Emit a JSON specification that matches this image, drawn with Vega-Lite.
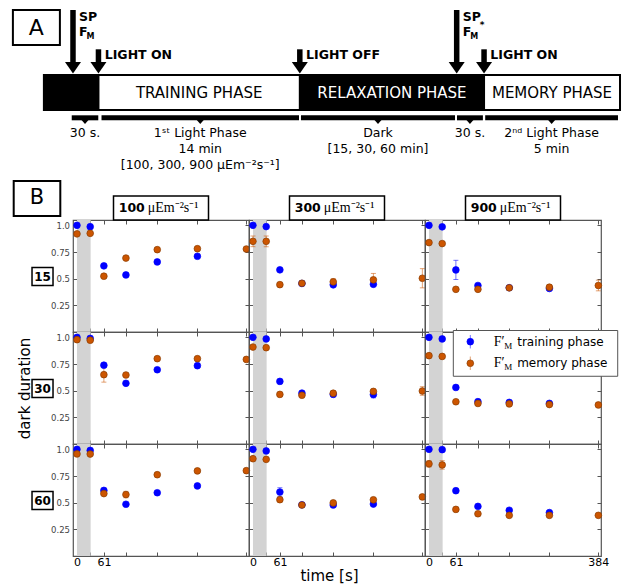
{
"$schema": "https://vega.github.io/schema/vega-lite/v6.json",
"padding": {"left": 8, "top": 0, "right": 0, "bottom": 0},
"spacing": 0,
"bounds": "flush",
"config": {
 "font": "DejaVu Sans",
 "view": {"stroke": "#555", "strokeWidth": 1.2},
 "axis": {"grid": false, "domain": false, "tickSize": -4, "tickColor": "#555", "tickWidth": 1, "labelFlush": false, "labelOverlap": false, "labelFont": "DejaVu Sans", "titleFont": "DejaVu Sans", "titleFontWeight": "normal", "titleColor": "#000"},
 "axisBottom": {"labelPadding": 4, "labelFontSize": 11, "labelColor": "#000"},
 "axisLeft": {"labelPadding": 7.5, "labelFontSize": 8.5, "labelColor": "#444"}
},
"datasets": {
 "band": [{"from": 0, "to": 31}],
 "heads": [{"intensity": 100, "label": "100", "unit": "μEm⁻²s⁻¹"}, {"intensity": 300, "label": "300", "unit": "μEm⁻²s⁻¹"}, {"intensity": 900, "label": "900", "unit": "μEm⁻²s⁻¹"}],
 "rowlab": [{"dark": "15"}, {"dark": "30"}, {"dark": "60"}],
 "legend": [{"series": "training", "label": "training phase"}, {"series": "memory", "label": "memory phase"}],
 "events": [
  {"event": "SP1", "pos": 5.05, "kind": "SP", "label": "SP", "star": false},
  {"event": "on1", "pos": 9.47, "kind": "light", "label": "LIGHT ON", "star": false},
  {"event": "off", "pos": 44.42, "kind": "light", "label": "LIGHT OFF", "star": false},
  {"event": "SP2", "pos": 71.65, "kind": "SP", "label": "SP", "star": true},
  {"event": "on2", "pos": 76.4, "kind": "light", "label": "LIGHT ON", "star": false}
 ],
 "phases": [
  {"phase": "pre", "start": 0, "end": 9.47, "light": "off", "label": ""},
  {"phase": "training", "start": 9.47, "end": 44.42, "light": "on", "label": "TRAINING PHASE"},
  {"phase": "relaxation", "start": 44.42, "end": 76.4, "light": "off", "label": "RELAXATION PHASE"},
  {"phase": "memory", "start": 76.4, "end": 100, "light": "on", "label": "MEMORY PHASE"}
 ],
 "brackets": [
  {"seg": "b1", "start": 4.83, "end": 9.44, "l1": "30 s.", "l2": "", "l3": ""},
  {"seg": "b2", "start": 10.0, "end": 44.28, "l1": "1ˢᵗ Light Phase", "l2": "14 min", "l3": "[100, 300, 900 μEm⁻²s⁻¹]"},
  {"seg": "b3", "start": 44.62, "end": 71.36, "l1": "Dark", "l2": "[15, 30, 60 min]", "l3": ""},
  {"seg": "b4", "start": 71.7, "end": 76.2, "l1": "30 s.", "l2": "", "l3": ""},
  {"seg": "b5", "start": 76.6, "end": 99.65, "l1": "2ⁿᵈ Light Phase", "l2": "5 min", "l3": ""}
 ],
 "pts": [
  {"dark":15,"intensity":100,"series":"training","t":0,"value":1.0,"err":0.01},
  {"dark":15,"intensity":100,"series":"training","t":30,"value":0.987,"err":0.01},
  {"dark":15,"intensity":100,"series":"training","t":61,"value":0.62,"err":0.01},
  {"dark":15,"intensity":100,"series":"training","t":111,"value":0.535,"err":0.01},
  {"dark":15,"intensity":100,"series":"training","t":182,"value":0.657,"err":0.01},
  {"dark":15,"intensity":100,"series":"training","t":273,"value":0.71,"err":0.01},
  {"dark":15,"intensity":300,"series":"training","t":0,"value":1.0,"err":0.01},
  {"dark":15,"intensity":300,"series":"training","t":30,"value":0.988,"err":0.01},
  {"dark":15,"intensity":300,"series":"training","t":61,"value":0.583,"err":0.01},
  {"dark":15,"intensity":300,"series":"training","t":111,"value":0.455,"err":0.01},
  {"dark":15,"intensity":300,"series":"training","t":182,"value":0.442,"err":0.01},
  {"dark":15,"intensity":300,"series":"training","t":273,"value":0.447,"err":0.01},
  {"dark":15,"intensity":900,"series":"training","t":0,"value":1.0,"err":0.01},
  {"dark":15,"intensity":900,"series":"training","t":30,"value":0.986,"err":0.01},
  {"dark":15,"intensity":900,"series":"training","t":61,"value":0.582,"err":0.09},
  {"dark":15,"intensity":900,"series":"training","t":111,"value":0.436,"err":0.01},
  {"dark":15,"intensity":900,"series":"training","t":182,"value":0.415,"err":0.01},
  {"dark":15,"intensity":900,"series":"training","t":273,"value":0.408,"err":0.01},
  {"dark":30,"intensity":100,"series":"training","t":0,"value":1.0,"err":0.01},
  {"dark":30,"intensity":100,"series":"training","t":30,"value":0.99,"err":0.01},
  {"dark":30,"intensity":100,"series":"training","t":61,"value":0.739,"err":0.01},
  {"dark":30,"intensity":100,"series":"training","t":111,"value":0.569,"err":0.01},
  {"dark":30,"intensity":100,"series":"training","t":182,"value":0.696,"err":0.01},
  {"dark":30,"intensity":100,"series":"training","t":273,"value":0.734,"err":0.01},
  {"dark":30,"intensity":300,"series":"training","t":0,"value":1.0,"err":0.01},
  {"dark":30,"intensity":300,"series":"training","t":30,"value":0.985,"err":0.01},
  {"dark":30,"intensity":300,"series":"training","t":61,"value":0.587,"err":0.01},
  {"dark":30,"intensity":300,"series":"training","t":111,"value":0.477,"err":0.01},
  {"dark":30,"intensity":300,"series":"training","t":182,"value":0.465,"err":0.02},
  {"dark":30,"intensity":300,"series":"training","t":273,"value":0.463,"err":0.03},
  {"dark":30,"intensity":900,"series":"training","t":0,"value":1.0,"err":0.01},
  {"dark":30,"intensity":900,"series":"training","t":30,"value":0.985,"err":0.01},
  {"dark":30,"intensity":900,"series":"training","t":61,"value":0.53,"err":0.01},
  {"dark":30,"intensity":900,"series":"training","t":111,"value":0.397,"err":0.01},
  {"dark":30,"intensity":900,"series":"training","t":182,"value":0.39,"err":0.01},
  {"dark":30,"intensity":900,"series":"training","t":273,"value":0.381,"err":0.01},
  {"dark":60,"intensity":100,"series":"training","t":0,"value":1.0,"err":0.01},
  {"dark":60,"intensity":100,"series":"training","t":30,"value":0.99,"err":0.01},
  {"dark":60,"intensity":100,"series":"training","t":61,"value":0.615,"err":0.01},
  {"dark":60,"intensity":100,"series":"training","t":111,"value":0.485,"err":0.01},
  {"dark":60,"intensity":100,"series":"training","t":182,"value":0.593,"err":0.01},
  {"dark":60,"intensity":100,"series":"training","t":273,"value":0.657,"err":0.01},
  {"dark":60,"intensity":300,"series":"training","t":0,"value":1.0,"err":0.01},
  {"dark":60,"intensity":300,"series":"training","t":30,"value":0.985,"err":0.01},
  {"dark":60,"intensity":300,"series":"training","t":61,"value":0.6,"err":0.04},
  {"dark":60,"intensity":300,"series":"training","t":111,"value":0.48,"err":0.01},
  {"dark":60,"intensity":300,"series":"training","t":182,"value":0.478,"err":0.01},
  {"dark":60,"intensity":300,"series":"training","t":273,"value":0.487,"err":0.01},
  {"dark":60,"intensity":900,"series":"training","t":0,"value":1.0,"err":0.01},
  {"dark":60,"intensity":900,"series":"training","t":30,"value":0.997,"err":0.01},
  {"dark":60,"intensity":900,"series":"training","t":61,"value":0.612,"err":0.01},
  {"dark":60,"intensity":900,"series":"training","t":111,"value":0.465,"err":0.01},
  {"dark":60,"intensity":900,"series":"training","t":182,"value":0.429,"err":0.01},
  {"dark":60,"intensity":900,"series":"training","t":273,"value":0.407,"err":0.01},
  {"dark":15,"intensity":100,"series":"memory","t":0,"value":0.92,"err":0.01},
  {"dark":15,"intensity":100,"series":"memory","t":30,"value":0.925,"err":0.01},
  {"dark":15,"intensity":100,"series":"memory","t":61,"value":0.523,"err":0.01},
  {"dark":15,"intensity":100,"series":"memory","t":111,"value":0.693,"err":0.01},
  {"dark":15,"intensity":100,"series":"memory","t":182,"value":0.772,"err":0.01},
  {"dark":15,"intensity":100,"series":"memory","t":273,"value":0.781,"err":0.01},
  {"dark":15,"intensity":100,"series":"memory","t":384,"value":0.778,"err":0.01},
  {"dark":15,"intensity":300,"series":"memory","t":0,"value":0.85,"err":0.05},
  {"dark":15,"intensity":300,"series":"memory","t":30,"value":0.85,"err":0.05},
  {"dark":15,"intensity":300,"series":"memory","t":61,"value":0.444,"err":0.01},
  {"dark":15,"intensity":300,"series":"memory","t":111,"value":0.457,"err":0.02},
  {"dark":15,"intensity":300,"series":"memory","t":182,"value":0.47,"err":0.03},
  {"dark":15,"intensity":300,"series":"memory","t":273,"value":0.489,"err":0.06},
  {"dark":15,"intensity":300,"series":"memory","t":384,"value":0.504,"err":0.09},
  {"dark":15,"intensity":900,"series":"memory","t":0,"value":0.838,"err":0.01},
  {"dark":15,"intensity":900,"series":"memory","t":30,"value":0.829,"err":0.01},
  {"dark":15,"intensity":900,"series":"memory","t":61,"value":0.4,"err":0.01},
  {"dark":15,"intensity":900,"series":"memory","t":111,"value":0.4,"err":0.01},
  {"dark":15,"intensity":900,"series":"memory","t":182,"value":0.414,"err":0.01},
  {"dark":15,"intensity":900,"series":"memory","t":273,"value":0.42,"err":0.02},
  {"dark":15,"intensity":900,"series":"memory","t":384,"value":0.436,"err":0.05},
  {"dark":30,"intensity":100,"series":"memory","t":0,"value":0.978,"err":0.01},
  {"dark":30,"intensity":100,"series":"memory","t":30,"value":0.973,"err":0.01},
  {"dark":30,"intensity":100,"series":"memory","t":61,"value":0.65,"err":0.07},
  {"dark":30,"intensity":100,"series":"memory","t":111,"value":0.647,"err":0.01},
  {"dark":30,"intensity":100,"series":"memory","t":182,"value":0.8,"err":0.01},
  {"dark":30,"intensity":100,"series":"memory","t":273,"value":0.8,"err":0.01},
  {"dark":30,"intensity":100,"series":"memory","t":384,"value":0.793,"err":0.01},
  {"dark":30,"intensity":300,"series":"memory","t":0,"value":0.909,"err":0.01},
  {"dark":30,"intensity":300,"series":"memory","t":30,"value":0.903,"err":0.01},
  {"dark":30,"intensity":300,"series":"memory","t":61,"value":0.465,"err":0.01},
  {"dark":30,"intensity":300,"series":"memory","t":111,"value":0.457,"err":0.01},
  {"dark":30,"intensity":300,"series":"memory","t":182,"value":0.476,"err":0.02},
  {"dark":30,"intensity":300,"series":"memory","t":273,"value":0.493,"err":0.02},
  {"dark":30,"intensity":300,"series":"memory","t":384,"value":0.497,"err":0.04},
  {"dark":30,"intensity":900,"series":"memory","t":0,"value":0.828,"err":0.01},
  {"dark":30,"intensity":900,"series":"memory","t":30,"value":0.821,"err":0.01},
  {"dark":30,"intensity":900,"series":"memory","t":61,"value":0.396,"err":0.01},
  {"dark":30,"intensity":900,"series":"memory","t":111,"value":0.38,"err":0.01},
  {"dark":30,"intensity":900,"series":"memory","t":182,"value":0.376,"err":0.01},
  {"dark":30,"intensity":900,"series":"memory","t":273,"value":0.37,"err":0.01},
  {"dark":30,"intensity":900,"series":"memory","t":384,"value":0.366,"err":0.01},
  {"dark":60,"intensity":100,"series":"memory","t":0,"value":0.957,"err":0.01},
  {"dark":60,"intensity":100,"series":"memory","t":30,"value":0.956,"err":0.01},
  {"dark":60,"intensity":100,"series":"memory","t":61,"value":0.585,"err":0.01},
  {"dark":60,"intensity":100,"series":"memory","t":111,"value":0.576,"err":0.03},
  {"dark":60,"intensity":100,"series":"memory","t":182,"value":0.762,"err":0.01},
  {"dark":60,"intensity":100,"series":"memory","t":273,"value":0.798,"err":0.01},
  {"dark":60,"intensity":100,"series":"memory","t":384,"value":0.8,"err":0.01},
  {"dark":60,"intensity":300,"series":"memory","t":0,"value":0.912,"err":0.01},
  {"dark":60,"intensity":300,"series":"memory","t":30,"value":0.906,"err":0.01},
  {"dark":60,"intensity":300,"series":"memory","t":61,"value":0.528,"err":0.02},
  {"dark":60,"intensity":300,"series":"memory","t":111,"value":0.478,"err":0.01},
  {"dark":60,"intensity":300,"series":"memory","t":182,"value":0.498,"err":0.01},
  {"dark":60,"intensity":300,"series":"memory","t":273,"value":0.527,"err":0.01},
  {"dark":60,"intensity":300,"series":"memory","t":384,"value":0.554,"err":0.01},
  {"dark":60,"intensity":900,"series":"memory","t":0,"value":0.864,"err":0.03},
  {"dark":60,"intensity":900,"series":"memory","t":30,"value":0.854,"err":0.04},
  {"dark":60,"intensity":900,"series":"memory","t":61,"value":0.437,"err":0.01},
  {"dark":60,"intensity":900,"series":"memory","t":111,"value":0.396,"err":0.01},
  {"dark":60,"intensity":900,"series":"memory","t":182,"value":0.381,"err":0.01},
  {"dark":60,"intensity":900,"series":"memory","t":273,"value":0.381,"err":0.01},
  {"dark":60,"intensity":900,"series":"memory","t":384,"value":0.381,"err":0.01}
 ]
},
"vconcat": [
 {
  "width": 528, "height": 220,
  "view": {"stroke": null},
  "layer": [
   {"data": {"name": "phases"}, "transform": [{"filter": "datum.light=='off'"}], "mark": {"type": "rect", "fill": "#000", "stroke": "#000", "strokeWidth": 2},
    "encoding": {"x": {"field": "start", "type": "quantitative", "scale": {"domain": [5.051, 96.7], "nice": false, "zero": false}, "axis": null}, "x2": {"field": "end"}, "y": {"datum": 65.91, "type": "quantitative", "scale": {"domain": [0, 100], "nice": false, "zero": false}, "axis": null}, "y2": {"datum": 50}}},
   {"data": {"name": "phases"}, "transform": [{"filter": "datum.light=='on'"}], "mark": {"type": "rect", "fill": "#fff", "stroke": "#000", "strokeWidth": 2},
    "encoding": {"x": {"field": "start", "type": "quantitative", "axis": null}, "x2": {"field": "end"}, "y": {"datum": 65.91, "type": "quantitative", "axis": null}, "y2": {"datum": 50}}},
   {"data": {"name": "phases"}, "transform": [{"filter": "datum.light=='off' && datum.label!=''"}, {"fold": ["start", "end"], "as": ["k", "v"]}], "mark": {"type": "text", "fontSize": 15, "color": "#fff", "baseline": "middle"},
    "encoding": {"x": {"aggregate": "mean", "field": "v", "type": "quantitative", "axis": null}, "y": {"datum": 57.95, "type": "quantitative", "axis": null}, "text": {"field": "label"}}},
   {"data": {"name": "phases"}, "transform": [{"filter": "datum.light=='on' && datum.label!=''"}, {"fold": ["start", "end"], "as": ["k", "v"]}], "mark": {"type": "text", "fontSize": 15, "color": "#000", "baseline": "middle"},
    "encoding": {"x": {"aggregate": "mean", "field": "v", "type": "quantitative", "axis": null}, "y": {"datum": 57.95, "type": "quantitative", "axis": null}, "text": {"field": "label"}}},
   {"data": {"name": "events"}, "transform": [{"filter": "datum.kind=='SP'"}], "mark": {"type": "rule", "strokeWidth": 5.5, "color": "#000"},
    "encoding": {"x": {"field": "pos", "type": "quantitative", "axis": null}, "y": {"datum": 95.45, "type": "quantitative", "axis": null}, "y2": {"datum": 71}}},
   {"data": {"name": "events"}, "transform": [{"filter": "datum.kind=='light'"}], "mark": {"type": "rule", "strokeWidth": 5.5, "color": "#000"},
    "encoding": {"x": {"field": "pos", "type": "quantitative", "axis": null}, "y": {"datum": 77.59, "type": "quantitative", "axis": null}, "y2": {"datum": 71}}},
   {"data": {"name": "events"}, "mark": {"type": "point", "shape": "M-1,-0.72L1,-0.72L0,0.72Z", "size": 256, "filled": true, "color": "#000", "opacity": 1},
    "encoding": {"x": {"field": "pos", "type": "quantitative", "axis": null}, "y": {"datum": 69.2, "type": "quantitative", "axis": null}}},
   {"data": {"name": "events"}, "transform": [{"filter": "datum.kind=='light'"}], "mark": {"type": "text", "fontSize": 12.5, "fontWeight": "bold", "align": "left", "baseline": "middle", "dx": 6.3},
    "encoding": {"x": {"field": "pos", "type": "quantitative", "axis": null}, "y": {"datum": 75, "type": "quantitative", "axis": null}, "text": {"field": "label"}}},
   {"data": {"name": "events"}, "transform": [{"filter": "datum.kind=='SP'"}], "mark": {"type": "text", "fontSize": 12.5, "fontWeight": "bold", "align": "left", "baseline": "middle", "dx": 6},
    "encoding": {"x": {"field": "pos", "type": "quantitative", "axis": null}, "y": {"datum": 92.05, "type": "quantitative", "axis": null}, "text": {"field": "label"}}},
   {"data": {"name": "events"}, "transform": [{"filter": "datum.kind=='SP'"}], "mark": {"type": "text", "fontSize": 12.5, "fontWeight": "bold", "align": "left", "baseline": "middle", "dx": 6},
    "encoding": {"x": {"field": "pos", "type": "quantitative", "axis": null}, "y": {"datum": 85.3, "type": "quantitative", "axis": null}, "text": {"value": "F"}}},
   {"data": {"name": "events"}, "transform": [{"filter": "datum.kind=='SP'"}], "mark": {"type": "text", "fontSize": 8, "fontWeight": "bold", "align": "left", "baseline": "middle", "dx": 13.5},
    "encoding": {"x": {"field": "pos", "type": "quantitative", "axis": null}, "y": {"datum": 83.4, "type": "quantitative", "axis": null}, "text": {"value": "M"}}},
   {"data": {"name": "events"}, "transform": [{"filter": "datum.star"}], "mark": {"type": "text", "fontSize": 9, "fontWeight": "bold", "align": "left", "baseline": "middle", "dx": 23},
    "encoding": {"x": {"field": "pos", "type": "quantitative", "axis": null}, "y": {"datum": 88.6, "type": "quantitative", "axis": null}, "text": {"value": "*"}}},
   {"data": {"name": "brackets"}, "mark": {"type": "rule", "strokeWidth": 5, "color": "#000"},
    "encoding": {"x": {"field": "start", "type": "quantitative", "axis": null}, "x2": {"field": "end"}, "y": {"datum": 46.45, "type": "quantitative", "axis": null}}},
   {"data": {"name": "brackets"}, "transform": [{"fold": ["start", "end"], "as": ["k", "v"]}], "mark": {"type": "point", "shape": "M-1,-0.6L1,-0.6L0,0.6Z", "size": 49, "filled": true, "color": "#000", "opacity": 1},
    "encoding": {"x": {"aggregate": "mean", "field": "v", "type": "quantitative", "axis": null}, "y": {"datum": 44.55, "type": "quantitative", "axis": null}, "detail": {"field": "seg"}}},
   {"data": {"name": "brackets"}, "transform": [{"fold": ["start", "end"], "as": ["k", "v"]}], "mark": {"type": "text", "fontSize": 12.5, "baseline": "middle"},
    "encoding": {"x": {"aggregate": "mean", "field": "v", "type": "quantitative", "axis": null}, "y": {"datum": 39.41, "type": "quantitative", "axis": null}, "text": {"field": "l1"}, "detail": {"field": "seg"}}},
   {"data": {"name": "brackets"}, "transform": [{"filter": "datum.l2!=''"}, {"fold": ["start", "end"], "as": ["k", "v"]}], "mark": {"type": "text", "fontSize": 12.5, "baseline": "middle"},
    "encoding": {"x": {"aggregate": "mean", "field": "v", "type": "quantitative", "axis": null}, "y": {"datum": 32.14, "type": "quantitative", "axis": null}, "text": {"field": "l2"}, "detail": {"field": "seg"}}},
   {"data": {"name": "brackets"}, "transform": [{"filter": "datum.l3!=''"}, {"fold": ["start", "end"], "as": ["k", "v"]}], "mark": {"type": "text", "fontSize": 12.5, "baseline": "middle"},
    "encoding": {"x": {"aggregate": "mean", "field": "v", "type": "quantitative", "axis": null}, "y": {"datum": 25.0, "type": "quantitative", "axis": null}, "text": {"field": "l3"}, "detail": {"field": "seg"}}},
   {"data": {"values": [{"panel": "A"}]}, "mark": {"type": "point", "shape": "M-1,-0.745H1V0.745H-1Z", "size": 2209, "filled": false, "stroke": "#000", "strokeWidth": 2, "opacity": 1},
    "encoding": {"x": {"datum": -1.302, "type": "quantitative", "axis": null}, "y": {"datum": 87.5, "type": "quantitative", "axis": null}}},
   {"data": {"values": [{"panel": "A"}]}, "mark": {"type": "text", "fontSize": 22, "baseline": "middle", "align": "center"},
    "encoding": {"x": {"datum": -1.302, "type": "quantitative", "axis": null}, "y": {"datum": 87.5, "type": "quantitative", "axis": null}, "text": {"field": "panel"}}}
  ]
 },
 {
  "columns": 3, "spacing": 0, "bounds": "flush",
  "concat": [
    {"width": 176, "height": 112, "resolve": {"axis": {"x": "independent", "y": "independent"}}, "layer": [
     {"data": {"name": "band"}, "mark": {"type": "rect", "color": "#d3d3d3"}, "encoding": {"x": {"field": "from", "type": "quantitative", "scale": {"domain": [-9, 390], "nice": false, "zero": false}, "axis": null}, "x2": {"field": "to"}, "y": {"datum": 0, "type": "quantitative", "scale": {"domain": [0, 1.05], "nice": false, "zero": false}, "axis": null}, "y2": {"datum": 1.05}}},
     {"data": {"name": "pts"}, "transform": [{"filter": "datum.dark==15&&datum.intensity==100"}], "mark": {"type": "errorbar", "ticks": true, "opacity": 0.55}, "encoding": {"x": {"field": "t", "type": "quantitative", "axis": {"orient": "top", "values": [0,30,61,111,182,273,384], "labels": false, "title": null}}, "y": {"field": "value", "type": "quantitative", "axis": {"orient": "right", "values": [0.25,0.5,0.75,1], "labels": false, "title": null}}, "yError": {"field": "err"}, "color": {"field": "series", "type": "nominal", "scale": {"domain": ["training", "memory"], "range": ["#0000ff", "#cc5500"]}, "legend": null}}},
     {"data": {"name": "pts"}, "transform": [{"filter": "datum.dark==15&&datum.intensity==100"}], "mark": {"type": "circle", "size": 45, "opacity": 1, "strokeWidth": 0.7}, "encoding": {"x": {"field": "t", "type": "quantitative", "axis": {"orient": "bottom", "values": [0,30,61,111,182,273,384], "labels": false, "title": null}}, "y": {"field": "value", "type": "quantitative", "axis": {"orient": "left", "values": [0.25,0.5,0.75,1], "labels": true, "labelExpr": "datum.value==1?'1.0':format(datum.value,'')", "title": null}}, "color": {"field": "series", "type": "nominal", "legend": null}, "stroke": {"field": "series", "type": "nominal", "scale": {"domain": ["training", "memory"], "range": ["#0000ff", "#8a3c00"]}, "legend": null}}},
     {"data": {"name": "heads"}, "transform": [{"filter": "datum.intensity==100"}], "mark": {"type": "point", "shape": "M-1,-0.2526H1V0.2526H-1Z", "size": 9025, "filled": true, "fill": "#fff", "stroke": "#000", "strokeWidth": 1.5, "opacity": 1}, "encoding": {"x": {"datum": 190.5, "type": "quantitative", "axis": null}, "y": {"datum": 1.1625, "type": "quantitative", "axis": null}}},
     {"data": {"name": "heads"}, "transform": [{"filter": "datum.intensity==100"}], "mark": {"type": "text", "fontSize": 12.5, "fontWeight": "bold", "align": "left", "baseline": "middle", "dx": -42.3}, "encoding": {"x": {"datum": 190.5, "type": "quantitative", "axis": null}, "y": {"datum": 1.1625, "type": "quantitative", "axis": null}, "text": {"field": "label"}}},
     {"data": {"name": "heads"}, "transform": [{"filter": "datum.intensity==100"}], "mark": {"type": "text", "font": "Liberation Serif", "fontSize": 14, "align": "left", "baseline": "middle", "dx": -13.3}, "encoding": {"x": {"datum": 190.5, "type": "quantitative", "axis": null}, "y": {"datum": 1.1625, "type": "quantitative", "axis": null}, "text": {"field": "unit"}}},
     {"data": {"name": "rowlab"}, "transform": [{"filter": "datum.dark=='15'"}], "mark": {"type": "point", "shape": "M-1,-0.857H1V0.857H-1Z", "size": 441, "filled": true, "fill": "#fff", "stroke": "#000", "strokeWidth": 1.5, "opacity": 1}, "encoding": {"x": {"datum": -78.1, "type": "quantitative", "axis": null}, "y": {"datum": 0.52, "type": "quantitative", "axis": null}}},
     {"data": {"name": "rowlab"}, "transform": [{"filter": "datum.dark=='15'"}], "mark": {"type": "text", "fontSize": 12, "fontWeight": "bold", "baseline": "middle"}, "encoding": {"x": {"datum": -78.1, "type": "quantitative", "axis": null}, "y": {"datum": 0.52, "type": "quantitative", "axis": null}, "text": {"field": "dark"}}},
     {"data": {"values": [{"panel": "B"}]}, "mark": {"type": "point", "shape": "M-1,-0.751H1V0.751H-1Z", "size": 2172, "filled": false, "stroke": "#000", "strokeWidth": 2, "opacity": 1}, "encoding": {"x": {"datum": -90.6, "type": "quantitative", "axis": null}, "y": {"datum": 1.2516, "type": "quantitative", "axis": null}}},
     {"data": {"values": [{"panel": "B"}]}, "mark": {"type": "text", "fontSize": 21, "baseline": "middle", "align": "center"}, "encoding": {"x": {"datum": -90.6, "type": "quantitative", "axis": null}, "y": {"datum": 1.2516, "type": "quantitative", "axis": null}, "text": {"field": "panel"}}}
    ]},
    {"width": 176, "height": 112, "resolve": {"axis": {"x": "independent", "y": "independent"}}, "layer": [
     {"data": {"name": "band"}, "mark": {"type": "rect", "color": "#d3d3d3"}, "encoding": {"x": {"field": "from", "type": "quantitative", "scale": {"domain": [-9, 390], "nice": false, "zero": false}, "axis": null}, "x2": {"field": "to"}, "y": {"datum": 0, "type": "quantitative", "scale": {"domain": [0, 1.05], "nice": false, "zero": false}, "axis": null}, "y2": {"datum": 1.05}}},
     {"data": {"name": "pts"}, "transform": [{"filter": "datum.dark==15&&datum.intensity==300"}], "mark": {"type": "errorbar", "ticks": true, "opacity": 0.55}, "encoding": {"x": {"field": "t", "type": "quantitative", "axis": {"orient": "top", "values": [0,30,61,111,182,273,384], "labels": false, "title": null}}, "y": {"field": "value", "type": "quantitative", "axis": {"orient": "right", "values": [0.25,0.5,0.75,1], "labels": false, "title": null}}, "yError": {"field": "err"}, "color": {"field": "series", "type": "nominal", "legend": null}}},
     {"data": {"name": "pts"}, "transform": [{"filter": "datum.dark==15&&datum.intensity==300"}], "mark": {"type": "circle", "size": 45, "opacity": 1, "strokeWidth": 0.7}, "encoding": {"x": {"field": "t", "type": "quantitative", "axis": {"orient": "bottom", "values": [0,30,61,111,182,273,384], "labels": false, "title": null}}, "y": {"field": "value", "type": "quantitative", "axis": {"orient": "left", "values": [0.25,0.5,0.75,1], "labels": false, "title": null}}, "color": {"field": "series", "type": "nominal", "legend": null}, "stroke": {"field": "series", "type": "nominal", "legend": null}}},
     {"data": {"name": "heads"}, "transform": [{"filter": "datum.intensity==300"}], "mark": {"type": "point", "shape": "M-1,-0.2526H1V0.2526H-1Z", "size": 9025, "filled": true, "fill": "#fff", "stroke": "#000", "strokeWidth": 1.5, "opacity": 1}, "encoding": {"x": {"datum": 190.5, "type": "quantitative", "axis": null}, "y": {"datum": 1.1625, "type": "quantitative", "axis": null}}},
     {"data": {"name": "heads"}, "transform": [{"filter": "datum.intensity==300"}], "mark": {"type": "text", "fontSize": 12.5, "fontWeight": "bold", "align": "left", "baseline": "middle", "dx": -42.3}, "encoding": {"x": {"datum": 190.5, "type": "quantitative", "axis": null}, "y": {"datum": 1.1625, "type": "quantitative", "axis": null}, "text": {"field": "label"}}},
     {"data": {"name": "heads"}, "transform": [{"filter": "datum.intensity==300"}], "mark": {"type": "text", "font": "Liberation Serif", "fontSize": 14, "align": "left", "baseline": "middle", "dx": -13.3}, "encoding": {"x": {"datum": 190.5, "type": "quantitative", "axis": null}, "y": {"datum": 1.1625, "type": "quantitative", "axis": null}, "text": {"field": "unit"}}}
    ]},
    {"width": 176, "height": 112, "resolve": {"axis": {"x": "independent", "y": "independent"}}, "layer": [
     {"data": {"name": "band"}, "mark": {"type": "rect", "color": "#d3d3d3"}, "encoding": {"x": {"field": "from", "type": "quantitative", "scale": {"domain": [-9, 390], "nice": false, "zero": false}, "axis": null}, "x2": {"field": "to"}, "y": {"datum": 0, "type": "quantitative", "scale": {"domain": [0, 1.05], "nice": false, "zero": false}, "axis": null}, "y2": {"datum": 1.05}}},
     {"data": {"name": "pts"}, "transform": [{"filter": "datum.dark==15&&datum.intensity==900"}], "mark": {"type": "errorbar", "ticks": true, "opacity": 0.55}, "encoding": {"x": {"field": "t", "type": "quantitative", "axis": {"orient": "top", "values": [0,30,61,111,182,273,384], "labels": false, "title": null}}, "y": {"field": "value", "type": "quantitative", "axis": {"orient": "right", "values": [0.25,0.5,0.75,1], "labels": false, "title": null}}, "yError": {"field": "err"}, "color": {"field": "series", "type": "nominal", "legend": null}}},
     {"data": {"name": "pts"}, "transform": [{"filter": "datum.dark==15&&datum.intensity==900"}], "mark": {"type": "circle", "size": 45, "opacity": 1, "strokeWidth": 0.7}, "encoding": {"x": {"field": "t", "type": "quantitative", "axis": {"orient": "bottom", "values": [0,30,61,111,182,273,384], "labels": false, "title": null}}, "y": {"field": "value", "type": "quantitative", "axis": {"orient": "left", "values": [0.25,0.5,0.75,1], "labels": false, "title": null}}, "color": {"field": "series", "type": "nominal", "legend": null}, "stroke": {"field": "series", "type": "nominal", "legend": null}}},
     {"data": {"name": "heads"}, "transform": [{"filter": "datum.intensity==900"}], "mark": {"type": "point", "shape": "M-1,-0.2526H1V0.2526H-1Z", "size": 9025, "filled": true, "fill": "#fff", "stroke": "#000", "strokeWidth": 1.5, "opacity": 1}, "encoding": {"x": {"datum": 190.5, "type": "quantitative", "axis": null}, "y": {"datum": 1.1625, "type": "quantitative", "axis": null}}},
     {"data": {"name": "heads"}, "transform": [{"filter": "datum.intensity==900"}], "mark": {"type": "text", "fontSize": 12.5, "fontWeight": "bold", "align": "left", "baseline": "middle", "dx": -42.3}, "encoding": {"x": {"datum": 190.5, "type": "quantitative", "axis": null}, "y": {"datum": 1.1625, "type": "quantitative", "axis": null}, "text": {"field": "label"}}},
     {"data": {"name": "heads"}, "transform": [{"filter": "datum.intensity==900"}], "mark": {"type": "text", "font": "Liberation Serif", "fontSize": 14, "align": "left", "baseline": "middle", "dx": -13.3}, "encoding": {"x": {"datum": 190.5, "type": "quantitative", "axis": null}, "y": {"datum": 1.1625, "type": "quantitative", "axis": null}, "text": {"field": "unit"}}}
    ]},
    {"width": 176, "height": 112, "resolve": {"axis": {"x": "independent", "y": "independent"}}, "layer": [
     {"data": {"name": "band"}, "mark": {"type": "rect", "color": "#d3d3d3"}, "encoding": {"x": {"field": "from", "type": "quantitative", "scale": {"domain": [-9, 390], "nice": false, "zero": false}, "axis": null}, "x2": {"field": "to"}, "y": {"datum": 0, "type": "quantitative", "scale": {"domain": [0, 1.05], "nice": false, "zero": false}, "axis": null}, "y2": {"datum": 1.05}}},
     {"data": {"name": "pts"}, "transform": [{"filter": "datum.dark==30&&datum.intensity==100"}], "mark": {"type": "errorbar", "ticks": true, "opacity": 0.55}, "encoding": {"x": {"field": "t", "type": "quantitative", "axis": {"orient": "top", "values": [0,30,61,111,182,273,384], "labels": false, "title": null}}, "y": {"field": "value", "type": "quantitative", "axis": {"orient": "right", "values": [0.25,0.5,0.75,1], "labels": false, "title": null}}, "yError": {"field": "err"}, "color": {"field": "series", "type": "nominal", "legend": null}}},
     {"data": {"name": "pts"}, "transform": [{"filter": "datum.dark==30&&datum.intensity==100"}], "mark": {"type": "circle", "size": 45, "opacity": 1, "strokeWidth": 0.7}, "encoding": {"x": {"field": "t", "type": "quantitative", "axis": {"orient": "bottom", "values": [0,30,61,111,182,273,384], "labels": false, "title": null}}, "y": {"field": "value", "type": "quantitative", "axis": {"orient": "left", "values": [0.25,0.5,0.75,1], "labels": true, "labelExpr": "datum.value==1?'1.0':format(datum.value,'')", "title": "dark duration", "titleFontSize": 15, "titleX": -49, "titleY": 56, "titleAngle": 270, "titleBaseline": "middle", "titleAlign": "center"}}, "color": {"field": "series", "type": "nominal", "legend": null}, "stroke": {"field": "series", "type": "nominal", "legend": null}}},
     {"data": {"name": "rowlab"}, "transform": [{"filter": "datum.dark=='30'"}], "mark": {"type": "point", "shape": "M-1,-0.857H1V0.857H-1Z", "size": 441, "filled": true, "fill": "#fff", "stroke": "#000", "strokeWidth": 1.5, "opacity": 1}, "encoding": {"x": {"datum": -78.1, "type": "quantitative", "axis": null}, "y": {"datum": 0.52, "type": "quantitative", "axis": null}}},
     {"data": {"name": "rowlab"}, "transform": [{"filter": "datum.dark=='30'"}], "mark": {"type": "text", "fontSize": 12, "fontWeight": "bold", "baseline": "middle"}, "encoding": {"x": {"datum": -78.1, "type": "quantitative", "axis": null}, "y": {"datum": 0.52, "type": "quantitative", "axis": null}, "text": {"field": "dark"}}}
    ]},
    {"width": 176, "height": 112, "resolve": {"axis": {"x": "independent", "y": "independent"}}, "layer": [
     {"data": {"name": "band"}, "mark": {"type": "rect", "color": "#d3d3d3"}, "encoding": {"x": {"field": "from", "type": "quantitative", "scale": {"domain": [-9, 390], "nice": false, "zero": false}, "axis": null}, "x2": {"field": "to"}, "y": {"datum": 0, "type": "quantitative", "scale": {"domain": [0, 1.05], "nice": false, "zero": false}, "axis": null}, "y2": {"datum": 1.05}}},
     {"data": {"name": "pts"}, "transform": [{"filter": "datum.dark==30&&datum.intensity==300"}], "mark": {"type": "errorbar", "ticks": true, "opacity": 0.55}, "encoding": {"x": {"field": "t", "type": "quantitative", "axis": {"orient": "top", "values": [0,30,61,111,182,273,384], "labels": false, "title": null}}, "y": {"field": "value", "type": "quantitative", "axis": {"orient": "right", "values": [0.25,0.5,0.75,1], "labels": false, "title": null}}, "yError": {"field": "err"}, "color": {"field": "series", "type": "nominal", "legend": null}}},
     {"data": {"name": "pts"}, "transform": [{"filter": "datum.dark==30&&datum.intensity==300"}], "mark": {"type": "circle", "size": 45, "opacity": 1, "strokeWidth": 0.7}, "encoding": {"x": {"field": "t", "type": "quantitative", "axis": {"orient": "bottom", "values": [0,30,61,111,182,273,384], "labels": false, "title": null}}, "y": {"field": "value", "type": "quantitative", "axis": {"orient": "left", "values": [0.25,0.5,0.75,1], "labels": false, "title": null}}, "color": {"field": "series", "type": "nominal", "legend": null}, "stroke": {"field": "series", "type": "nominal", "legend": null}}}
    ]},
    {"width": 176, "height": 112, "resolve": {"axis": {"x": "independent", "y": "independent"}}, "layer": [
     {"data": {"name": "band"}, "mark": {"type": "rect", "color": "#d3d3d3"}, "encoding": {"x": {"field": "from", "type": "quantitative", "scale": {"domain": [-9, 390], "nice": false, "zero": false}, "axis": null}, "x2": {"field": "to"}, "y": {"datum": 0, "type": "quantitative", "scale": {"domain": [0, 1.05], "nice": false, "zero": false}, "axis": null}, "y2": {"datum": 1.05}}},
     {"data": {"name": "pts"}, "transform": [{"filter": "datum.dark==30&&datum.intensity==900"}], "mark": {"type": "errorbar", "ticks": true, "opacity": 0.55}, "encoding": {"x": {"field": "t", "type": "quantitative", "axis": {"orient": "top", "values": [0,30,61,111,182,273,384], "labels": false, "title": null}}, "y": {"field": "value", "type": "quantitative", "axis": {"orient": "right", "values": [0.25,0.5,0.75,1], "labels": false, "title": null}}, "yError": {"field": "err"}, "color": {"field": "series", "type": "nominal", "legend": null}}},
     {"data": {"name": "pts"}, "transform": [{"filter": "datum.dark==30&&datum.intensity==900"}], "mark": {"type": "circle", "size": 45, "opacity": 1, "strokeWidth": 0.7}, "encoding": {"x": {"field": "t", "type": "quantitative", "axis": {"orient": "bottom", "values": [0,30,61,111,182,273,384], "labels": false, "title": null}}, "y": {"field": "value", "type": "quantitative", "axis": {"orient": "left", "values": [0.25,0.5,0.75,1], "labels": false, "title": null}}, "color": {"field": "series", "type": "nominal", "legend": null}, "stroke": {"field": "series", "type": "nominal", "legend": null}}},
     {"data": {"name": "legend"}, "transform": [{"filter": "datum.series=='training'"}], "mark": {"type": "rect", "fill": "#fff", "stroke": "#555", "strokeWidth": 1}, "encoding": {"x": {"datum": 55.2, "type": "quantitative", "axis": null}, "x2": {"datum": 427.9}, "y": {"datum": 1.064, "type": "quantitative", "axis": null}, "y2": {"datum": 0.635}}},
     {"data": {"name": "legend"}, "transform": [{"filter": "datum.series=='training'"}], "mark": {"type": "rule", "opacity": 0.55, "strokeWidth": 1}, "encoding": {"x": {"datum": 93.7, "type": "quantitative", "axis": null}, "y": {"datum": 0.896, "type": "quantitative", "axis": null}, "y2": {"datum": 1.022}, "color": {"field": "series", "type": "nominal", "legend": null}}},
     {"data": {"name": "legend"}, "transform": [{"filter": "datum.series=='memory'"}], "mark": {"type": "rule", "opacity": 0.55, "strokeWidth": 1}, "encoding": {"x": {"datum": 93.7, "type": "quantitative", "axis": null}, "y": {"datum": 0.694, "type": "quantitative", "axis": null}, "y2": {"datum": 0.82}, "color": {"field": "series", "type": "nominal", "legend": null}}},
     {"data": {"name": "legend"}, "transform": [{"filter": "datum.series=='training'"}], "mark": {"type": "circle", "size": 45, "opacity": 1, "strokeWidth": 0.7}, "encoding": {"x": {"datum": 93.7, "type": "quantitative", "axis": null}, "y": {"datum": 0.959, "type": "quantitative", "axis": null}, "color": {"field": "series", "type": "nominal", "legend": null}, "stroke": {"field": "series", "type": "nominal", "legend": null}}},
     {"data": {"name": "legend"}, "transform": [{"filter": "datum.series=='memory'"}], "mark": {"type": "circle", "size": 45, "opacity": 1, "strokeWidth": 0.7}, "encoding": {"x": {"datum": 93.7, "type": "quantitative", "axis": null}, "y": {"datum": 0.757, "type": "quantitative", "axis": null}, "color": {"field": "series", "type": "nominal", "legend": null}, "stroke": {"field": "series", "type": "nominal", "legend": null}}},
     {"data": {"name": "legend"}, "transform": [{"filter": "datum.series=='training'"}], "mark": {"type": "text", "font": "Liberation Serif", "fontSize": 14, "align": "left", "baseline": "middle"}, "encoding": {"x": {"datum": 146.7, "type": "quantitative", "axis": null}, "y": {"datum": 0.959, "type": "quantitative", "axis": null}, "text": {"value": "F′"}}},
     {"data": {"name": "legend"}, "transform": [{"filter": "datum.series=='memory'"}], "mark": {"type": "text", "font": "Liberation Serif", "fontSize": 14, "align": "left", "baseline": "middle"}, "encoding": {"x": {"datum": 146.7, "type": "quantitative", "axis": null}, "y": {"datum": 0.757, "type": "quantitative", "axis": null}, "text": {"value": "F′"}}},
     {"data": {"name": "legend"}, "transform": [{"filter": "datum.series=='training'"}], "mark": {"type": "text", "font": "Liberation Serif", "fontSize": 9, "align": "left", "baseline": "middle", "dx": 10.5, "dy": 4}, "encoding": {"x": {"datum": 146.7, "type": "quantitative", "axis": null}, "y": {"datum": 0.959, "type": "quantitative", "axis": null}, "text": {"value": "M"}}},
     {"data": {"name": "legend"}, "transform": [{"filter": "datum.series=='memory'"}], "mark": {"type": "text", "font": "Liberation Serif", "fontSize": 9, "align": "left", "baseline": "middle", "dx": 10.5, "dy": 4}, "encoding": {"x": {"datum": 146.7, "type": "quantitative", "axis": null}, "y": {"datum": 0.757, "type": "quantitative", "axis": null}, "text": {"value": "M"}}},
     {"data": {"name": "legend"}, "transform": [{"filter": "datum.series=='training'"}], "mark": {"type": "text", "fontSize": 12, "align": "left", "baseline": "middle", "dx": 23.5}, "encoding": {"x": {"datum": 146.7, "type": "quantitative", "axis": null}, "y": {"datum": 0.959, "type": "quantitative", "axis": null}, "text": {"field": "label"}}},
     {"data": {"name": "legend"}, "transform": [{"filter": "datum.series=='memory'"}], "mark": {"type": "text", "fontSize": 12, "align": "left", "baseline": "middle", "dx": 23.5}, "encoding": {"x": {"datum": 146.7, "type": "quantitative", "axis": null}, "y": {"datum": 0.757, "type": "quantitative", "axis": null}, "text": {"field": "label"}}}
    ]},
    {"width": 176, "height": 112, "resolve": {"axis": {"x": "independent", "y": "independent"}}, "layer": [
     {"data": {"name": "band"}, "mark": {"type": "rect", "color": "#d3d3d3"}, "encoding": {"x": {"field": "from", "type": "quantitative", "scale": {"domain": [-9, 390], "nice": false, "zero": false}, "axis": null}, "x2": {"field": "to"}, "y": {"datum": 0, "type": "quantitative", "scale": {"domain": [0, 1.05], "nice": false, "zero": false}, "axis": null}, "y2": {"datum": 1.05}}},
     {"data": {"name": "pts"}, "transform": [{"filter": "datum.dark==60&&datum.intensity==100"}], "mark": {"type": "errorbar", "ticks": true, "opacity": 0.55}, "encoding": {"x": {"field": "t", "type": "quantitative", "axis": {"orient": "top", "values": [0,30,61,111,182,273,384], "labels": false, "title": null}}, "y": {"field": "value", "type": "quantitative", "axis": {"orient": "right", "values": [0.25,0.5,0.75,1], "labels": false, "title": null}}, "yError": {"field": "err"}, "color": {"field": "series", "type": "nominal", "legend": null}}},
     {"data": {"name": "pts"}, "transform": [{"filter": "datum.dark==60&&datum.intensity==100"}], "mark": {"type": "circle", "size": 45, "opacity": 1, "strokeWidth": 0.7}, "encoding": {"x": {"field": "t", "type": "quantitative", "axis": {"orient": "bottom", "values": [0,30,61,111,182,273,384], "labels": true, "labelExpr": "(datum.value==0||datum.value==61)?datum.label:''", "title": null}}, "y": {"field": "value", "type": "quantitative", "axis": {"orient": "left", "values": [0.25,0.5,0.75,1], "labels": true, "labelExpr": "datum.value==1?'1.0':format(datum.value,'')", "title": null}}, "color": {"field": "series", "type": "nominal", "legend": null}, "stroke": {"field": "series", "type": "nominal", "legend": null}}},
     {"data": {"name": "rowlab"}, "transform": [{"filter": "datum.dark=='60'"}], "mark": {"type": "point", "shape": "M-1,-0.857H1V0.857H-1Z", "size": 441, "filled": true, "fill": "#fff", "stroke": "#000", "strokeWidth": 1.5, "opacity": 1}, "encoding": {"x": {"datum": -78.1, "type": "quantitative", "axis": null}, "y": {"datum": 0.52, "type": "quantitative", "axis": null}}},
     {"data": {"name": "rowlab"}, "transform": [{"filter": "datum.dark=='60'"}], "mark": {"type": "text", "fontSize": 12, "fontWeight": "bold", "baseline": "middle"}, "encoding": {"x": {"datum": -78.1, "type": "quantitative", "axis": null}, "y": {"datum": 0.52, "type": "quantitative", "axis": null}, "text": {"field": "dark"}}}
    ]},
    {"width": 176, "height": 112, "resolve": {"axis": {"x": "independent", "y": "independent"}}, "layer": [
     {"data": {"name": "band"}, "mark": {"type": "rect", "color": "#d3d3d3"}, "encoding": {"x": {"field": "from", "type": "quantitative", "scale": {"domain": [-9, 390], "nice": false, "zero": false}, "axis": null}, "x2": {"field": "to"}, "y": {"datum": 0, "type": "quantitative", "scale": {"domain": [0, 1.05], "nice": false, "zero": false}, "axis": null}, "y2": {"datum": 1.05}}},
     {"data": {"name": "pts"}, "transform": [{"filter": "datum.dark==60&&datum.intensity==300"}], "mark": {"type": "errorbar", "ticks": true, "opacity": 0.55}, "encoding": {"x": {"field": "t", "type": "quantitative", "axis": {"orient": "top", "values": [0,30,61,111,182,273,384], "labels": false, "title": null}}, "y": {"field": "value", "type": "quantitative", "axis": {"orient": "right", "values": [0.25,0.5,0.75,1], "labels": false, "title": null}}, "yError": {"field": "err"}, "color": {"field": "series", "type": "nominal", "legend": null}}},
     {"data": {"name": "pts"}, "transform": [{"filter": "datum.dark==60&&datum.intensity==300"}], "mark": {"type": "circle", "size": 45, "opacity": 1, "strokeWidth": 0.7}, "encoding": {"x": {"field": "t", "type": "quantitative", "axis": {"orient": "bottom", "values": [0,30,61,111,182,273,384], "labels": true, "labelExpr": "(datum.value==0||datum.value==61)?datum.label:''", "title": "time [s]", "titleFontSize": 15, "titleX": 80, "titleY": 19, "titleBaseline": "middle", "titleAlign": "center"}}, "y": {"field": "value", "type": "quantitative", "axis": {"orient": "left", "values": [0.25,0.5,0.75,1], "labels": false, "title": null}}, "color": {"field": "series", "type": "nominal", "legend": null}, "stroke": {"field": "series", "type": "nominal", "legend": null}}}
    ]},
    {"width": 176, "height": 112, "resolve": {"axis": {"x": "independent", "y": "independent"}}, "layer": [
     {"data": {"name": "band"}, "mark": {"type": "rect", "color": "#d3d3d3"}, "encoding": {"x": {"field": "from", "type": "quantitative", "scale": {"domain": [-9, 390], "nice": false, "zero": false}, "axis": null}, "x2": {"field": "to"}, "y": {"datum": 0, "type": "quantitative", "scale": {"domain": [0, 1.05], "nice": false, "zero": false}, "axis": null}, "y2": {"datum": 1.05}}},
     {"data": {"name": "pts"}, "transform": [{"filter": "datum.dark==60&&datum.intensity==900"}], "mark": {"type": "errorbar", "ticks": true, "opacity": 0.55}, "encoding": {"x": {"field": "t", "type": "quantitative", "axis": {"orient": "top", "values": [0,30,61,111,182,273,384], "labels": false, "title": null}}, "y": {"field": "value", "type": "quantitative", "axis": {"orient": "right", "values": [0.25,0.5,0.75,1], "labels": false, "title": null}}, "yError": {"field": "err"}, "color": {"field": "series", "type": "nominal", "legend": null}}},
     {"data": {"name": "pts"}, "transform": [{"filter": "datum.dark==60&&datum.intensity==900"}], "mark": {"type": "circle", "size": 45, "opacity": 1, "strokeWidth": 0.7}, "encoding": {"x": {"field": "t", "type": "quantitative", "axis": {"orient": "bottom", "values": [0,30,61,111,182,273,384], "labels": true, "labelExpr": "(datum.value==0||datum.value==61||datum.value==384)?datum.label:''", "title": null}}, "y": {"field": "value", "type": "quantitative", "axis": {"orient": "left", "values": [0.25,0.5,0.75,1], "labels": false, "title": null}}, "color": {"field": "series", "type": "nominal", "legend": null}, "stroke": {"field": "series", "type": "nominal", "legend": null}}}
    ]}
  ]
 }
]
}
